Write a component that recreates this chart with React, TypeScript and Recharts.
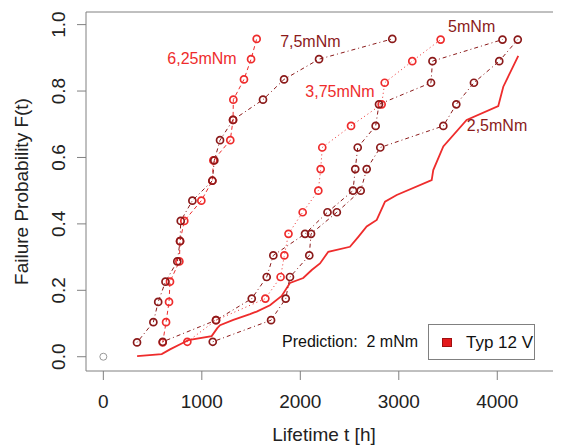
import { LineChart, Line, XAxis, YAxis, ReferenceLine, ReferenceDot } from 'recharts'

// median ranks for the two sample sizes
const ranks16 = [0.043, 0.104, 0.165, 0.226, 0.287, 0.348, 0.409, 0.470, 0.530, 0.591, 0.652, 0.713, 0.774, 0.835, 0.896, 0.957]
const ranks15 = [0.045, 0.110, 0.175, 0.240, 0.305, 0.370, 0.435, 0.500, 0.565, 0.630, 0.695, 0.760, 0.825, 0.890, 0.955]

// lifetimes in hours, per torque level
const hours625 = [603, 637, 667, 677, 772, 779, 822, 995, 1107, 1117, 1289, 1317, 1320, 1428, 1500, 1557]
const hours75 = [342, 508, 557, 631, 751, 779, 786, 904, 1107, 1127, 1185, 1317, 1621, 1835, 2190, 2934]
const hours375 = [853, 1144, 1645, 1800, 1838, 1880, 2024, 2183, 2207, 2223, 2515, 2826, 2857, 3137, 3425]
const hours5 = [603, 1144, 1507, 1659, 1726, 2048, 2276, 2535, 2558, 2583, 2765, 2799, 3327, 3342, 4053]
const hours25 = [1111, 1703, 1852, 1895, 2091, 2109, 2371, 2613, 2674, 2812, 3452, 3584, 3763, 4020, 4208]

// prediction curve for 2 mNm
const predHours = [343, 593, 677, 796, 863, 1100, 1157, 1185, 1320, 1489, 1557, 1692, 1811, 1895, 2030, 2116, 2200, 2284, 2504, 2589, 2674, 2776, 2860, 2979, 3334, 3350, 3452, 3689, 4010, 4061, 4213]
const predProb = [0.002, 0.008, 0.022, 0.040, 0.050, 0.062, 0.086, 0.095, 0.111, 0.128, 0.136, 0.155, 0.183, 0.222, 0.237, 0.261, 0.281, 0.316, 0.331, 0.361, 0.392, 0.412, 0.467, 0.487, 0.532, 0.562, 0.633, 0.713, 0.755, 0.813, 0.906]

const originHours = [0]
const originProb = [0]

const xTicks = [0, 1000, 2000, 3000, 4000]
const yTicks = [0, 0.2, 0.4, 0.6, 0.8, 1.0]

const RED = '#ee2c2c'
const DARK = '#8b1a1a'
const AXIS = '#808080'
const FONT = '"Liberation Sans", Arial, sans-serif'

const toPoints = (hours: number[], probs: number[]) => hours.map((t, i) => ({ t, p: probs[i] }))

const series = [
  { name: '6,25mNm', data: toPoints(hours625, ranks16), color: RED, dash: '4 3' },
  { name: '7,5mNm', data: toPoints(hours75, ranks16), color: DARK, dash: '1 3 4 3' },
  { name: '3,75mNm', data: toPoints(hours375, ranks15), color: RED, dash: '1 3' },
  { name: '5mNm', data: toPoints(hours5, ranks15), color: DARK, dash: '1 3 4 3' },
  { name: '2,5mNm', data: toPoints(hours25, ranks15), color: DARK, dash: '1 3 4 3' },
]

const labels = [
  { text: '6,25mNm', t: 1002, p: 0.899, color: RED },
  { text: '7,5mNm', t: 2102, p: 0.951, color: DARK },
  { text: '5mNm', t: 3740, p: 0.996, color: DARK },
  { text: '3,75mNm', t: 2403, p: 0.8, color: RED },
  { text: '2,5mNm', t: 3997, p: 0.698, color: DARK },
]

function XTick({ x, y, payload }: any) {
  return (
    <text x={x} y={y + 19} textAnchor="middle" dominantBaseline="central" fontSize={19} fill="#222">
      {payload.value}
    </text>
  )
}

function YTick({ y, payload }: any) {
  return (
    <text x={51} y={y} transform={`rotate(-90, 51, ${y})`} textAnchor="middle" dominantBaseline="central" fontSize={19} fill="#222">
      {payload.value.toFixed(1)}
    </text>
  )
}

export default function App() {
  return (
    <div style={{ position: 'relative', width: 553, height: 438, fontFamily: FONT, overflow: 'hidden' }}>
      <LineChart width={553} height={438} margin={{ top: 4, right: 0, bottom: 0, left: 8 }}>
        <XAxis
          dataKey="t"
          type="number"
          domain={[-176, 4647]}
          ticks={xTicks}
          allowDataOverflow
          height={75}
          tickSize={9}
          tick={<XTick />}
          axisLine={{ stroke: AXIS }}
          tickLine={{ stroke: AXIS }}
        />
        <YAxis
          dataKey="p"
          type="number"
          domain={[-0.043, 1.038]}
          ticks={yTicks}
          allowDataOverflow
          width={70}
          tickSize={9}
          tick={<YTick />}
          axisLine={{ stroke: AXIS }}
          tickLine={{ stroke: AXIS }}
          label={{ value: 'Failure Probability F(t)', angle: -90, position: 'insideLeft', dx: 0, fontSize: 19, fill: '#222', style: { textAnchor: 'middle' } }}
        />
        <ReferenceLine y={1.038} stroke={AXIS} />
        <Line
          data={toPoints(predHours, predProb)}
          dataKey="p"
          stroke={RED}
          strokeWidth={1.8}
          dot={false}
          isAnimationActive={false}
        />
        {series.map(s => (
          <Line
            key={s.name}
            data={s.data}
            dataKey="p"
            stroke={s.color}
            strokeWidth={1}
            strokeDasharray={s.dash}
            dot={{ r: 3.5, stroke: s.color, strokeWidth: 1.7, fill: 'none', strokeDasharray: '' }}
            isAnimationActive={false}
          />
        ))}
        <Line
          data={toPoints(originHours, originProb)}
          dataKey="p"
          stroke="none"
          dot={{ r: 3.5, stroke: '#999', strokeWidth: 1, fill: 'none' }}
          isAnimationActive={false}
        />
        {labels.map(l => (
          <ReferenceDot
            key={l.text}
            x={l.t}
            y={l.p}
            r={0}
            fill="none"
            stroke="none"
            label={{ value: l.text, position: 'center', fill: l.color, fontSize: 16 }}
          />
        ))}
      </LineChart>
      <div style={{ position: 'absolute', left: 316, top: 417, transform: 'translateX(-50%)', fontSize: 19, lineHeight: '19px', whiteSpace: 'pre', color: '#222' }}>
        {'Lifetime t [h]'}
      </div>
      <div style={{ position: 'absolute', left: 274, top: 326, fontSize: 16, lineHeight: '16px', whiteSpace: 'pre', color: '#111' }}>
        {'Prediction:  2 mNm'}
      </div>
      <div style={{ position: 'absolute', left: 420, top: 316, width: 107, height: 36, border: `1px solid ${AXIS}`, boxSizing: 'border-box' }}>
        <div style={{ position: 'absolute', left: 13, top: 13, width: 10, height: 9, background: '#e41a1c', border: '1px solid #a01010', boxSizing: 'border-box' }} />
        <div style={{ position: 'absolute', left: 37, top: 9, fontSize: 17, lineHeight: '17px', color: '#111' }}>Typ 12 V</div>
      </div>
    </div>
  )
}
